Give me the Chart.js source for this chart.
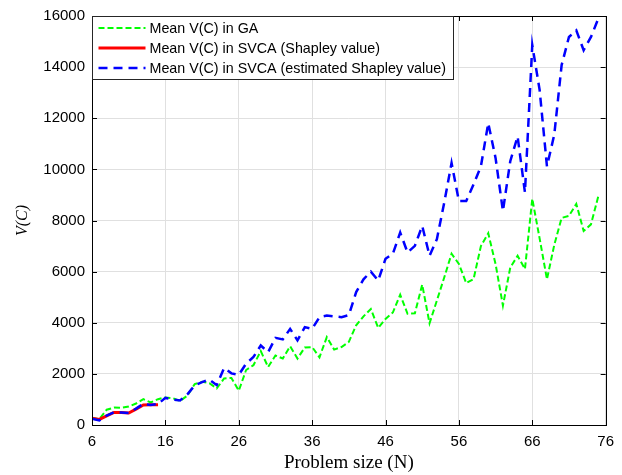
<!DOCTYPE html>
<html>
<head>
<meta charset="utf-8">
<style>
  html, body { margin: 0; padding: 0; background: #fff; }
  #wrap { width: 622px; height: 475px; }
</style>
<script src="https://cdn.jsdelivr.net/npm/chart.js@4.4.0/dist/chart.umd.min.js"></script>
</head>
<body>
<div id="wrap"><canvas id="chart" width="622" height="475"></canvas></div>
<script>
// problem sizes N used on the x axis
const problemSize = [
    6, 7, 8, 9, 10, 11, 12, 13, 14, 15,
    16, 17, 18, 19, 20, 21, 22, 23, 24, 25,
    26, 27, 28, 29, 30, 31, 32, 33, 34, 35,
    36, 37, 38, 39, 40, 41, 42, 43, 44, 45,
    46, 47, 48, 49, 50, 51, 52, 53, 54, 55,
    56, 57, 58, 59, 60, 61, 62, 63, 64, 65,
    66, 67, 68, 69, 70, 71, 72, 73, 74, 75
];

const gaMean = [
    280, 230, 600, 680, 670, 720, 840, 1010, 880, 1010,
    1080, 1050, 940, 1150, 1600, 1690, 1640, 1430, 1820, 1840,
    1340, 2150, 2340, 2890, 2270, 2720, 2600, 3080, 2600, 3030,
    3050, 2650, 3440, 2950, 3050, 3250, 3900, 4250, 4540, 3800,
    4150, 4400, 5100, 4350, 4370, 5490, 3980, 4870, 5770, 6700,
    6300, 5550, 5710, 7000, 7500, 6290, 4670, 6160, 6620, 6100,
    8850, 7300, 5700, 7050, 8100, 8180, 8650, 7590, 7850, 8950
];

// exact Shapley value only computed up to N = 15
const shapleySize = [6, 7, 8, 9, 10, 11, 12, 13, 14, 15];
const svcaShapley = [260, 220, 360, 490, 490, 470, 620, 780, 790, 790];

const svcaEstimated = [
    250, 180, 370, 500, 490, 470, 640, 830, 780, 820,
    1060, 1000, 960, 1200, 1550, 1680, 1780, 1560, 2230, 2020,
    1960, 2400, 2660, 3110, 2850, 3410, 3350, 3760, 3310, 3830,
    3760, 4220, 4280, 4250, 4220, 4300, 5200, 5700, 6000, 5650,
    6500, 6700, 7530, 6750, 7010, 7790, 6620, 7270, 8700, 10250,
    8760, 8760, 9410, 10120, 11810, 10440, 8370, 10320, 11290, 9100,
    14860, 13110, 10120, 11360, 14080, 15180, 15440, 14660, 15180, 15900
];

const xTicks = [6, 16, 26, 36, 46, 56, 66, 76];
const yTicks = [0, 2000, 4000, 6000, 8000, 10000, 12000, 14000, 16000];

const toPoints = (xs, ys) => xs.map((x, i) => ({ x: x, y: ys[i] }));

const tickFont = { family: "'Liberation Sans', Arial, sans-serif", size: 15 };
const serifFamily = "'Liberation Serif', 'DejaVu Serif', serif";

// box around the plot with short inward ticks on all four sides
const axesFrame = {
    id: 'axesFrame',
    afterDatasetsDraw(chart) {
        const { ctx, chartArea, scales } = chart;
        const { left, right, top, bottom } = chartArea;
        const len = 5;
        ctx.save();
        ctx.strokeStyle = '#000';
        ctx.lineWidth = 1;
        ctx.beginPath();
        xTicks.forEach(v => {
            const px = Math.round(scales.x.getPixelForValue(v)) + 0.5;
            ctx.moveTo(px, bottom); ctx.lineTo(px, bottom - len);
            ctx.moveTo(px, top); ctx.lineTo(px, top + len);
        });
        yTicks.forEach(v => {
            const py = Math.round(scales.y.getPixelForValue(v)) + 0.5;
            ctx.moveTo(left, py); ctx.lineTo(left + len, py);
            ctx.moveTo(right, py); ctx.lineTo(right - len, py);
        });
        ctx.stroke();
        ctx.strokeRect(Math.round(left) + 0.5, Math.round(top) + 0.5,
            Math.round(right - left), Math.round(bottom - top));
        ctx.restore();
    }
};

// legend box in the top left corner of the plot
const legendBox = {
    id: 'legendBox',
    afterDraw(chart) {
        const { ctx, chartArea } = chart;
        const x0 = Math.round(chartArea.left) + 0.5;
        const y0 = Math.round(chartArea.top) + 0.5;
        const w = 361, h = 63;
        ctx.save();
        ctx.fillStyle = '#fff';
        ctx.fillRect(x0, y0, w, h);
        ctx.strokeStyle = '#262626';
        ctx.lineWidth = 1;
        ctx.strokeRect(x0, y0, w, h);
        ctx.font = "14.3px 'Liberation Sans', Arial, sans-serif";
        ctx.textBaseline = 'middle';
        chart.data.datasets.forEach((ds, i) => {
            const y = y0 + 11.5 + i * 20;
            ctx.strokeStyle = ds.borderColor;
            ctx.lineWidth = ds.borderWidth;
            ctx.setLineDash(ds.borderDash || []);
            ctx.beginPath();
            ctx.moveTo(x0 + 6, y);
            ctx.lineTo(x0 + 53, y);
            ctx.stroke();
            ctx.setLineDash([]);
            ctx.fillStyle = '#000';
            ctx.fillText(ds.label, x0 + 57, y + 1);
        });
        ctx.restore();
    }
};

const myChart = new Chart(
    document.getElementById('chart'),
    {
        type: 'line',
        data: {
            datasets: [
                {
                    label: 'Mean V(C) in GA',
                    data: toPoints(problemSize, gaMean),
                    borderColor: '#00ff00',
                    borderWidth: 2,
                    borderDash: [6, 3],
                    order: 3
                },
                {
                    label: 'Mean V(C) in SVCA (Shapley value)',
                    data: toPoints(shapleySize, svcaShapley),
                    borderColor: '#ff0000',
                    borderWidth: 3,
                    order: 2
                },
                {
                    label: 'Mean V(C) in SVCA (estimated Shapley value)',
                    data: toPoints(problemSize, svcaEstimated),
                    borderColor: '#0000ff',
                    borderWidth: 2.5,
                    borderDash: [9, 6],
                    order: 1
                }
            ]
        },
        options: {
            responsive: false,
            animation: false,
            devicePixelRatio: 1,
            layout: { padding: { left: 0, right: 12, top: 14, bottom: 0 } },
            elements: {
                point: { radius: 0 },
                line: { tension: 0, fill: false, borderCapStyle: 'butt', borderJoinStyle: 'miter' }
            },
            plugins: {
                legend: { display: false },
                tooltip: { enabled: false }
            },
            scales: {
                x: {
                    type: 'linear',
                    min: 6,
                    max: 76,
                    afterBuildTicks: scale => { scale.ticks = xTicks.map(v => ({ value: v })); },
                    afterFit: scale => { scale.height = 50; },
                    grid: { color: '#e0e0e0', drawTicks: false },
                    border: { display: false },
                    ticks: { color: '#000', font: tickFont, padding: 8, maxRotation: 0, callback: v => String(v) },
                    title: {
                        display: true,
                        text: 'Problem size (N)',
                        color: '#000',
                        font: { family: serifFamily, size: 19 },
                        padding: { top: 0, bottom: 1 }
                    }
                },
                y: {
                    min: 0,
                    max: 16000,
                    afterBuildTicks: scale => { scale.ticks = yTicks.map(v => ({ value: v })); },
                    afterFit: scale => { scale.width = 92; },
                    grid: { color: '#e0e0e0', drawTicks: false },
                    border: { display: false },
                    ticks: { color: '#000', font: tickFont, padding: 7, callback: v => String(v) },
                    title: {
                        display: true,
                        text: 'V(C)',
                        color: '#000',
                        font: { family: serifFamily, size: 16, style: 'italic' },
                        padding: { top: 13, bottom: 0 }
                    }
                }
            }
        },
        plugins: [axesFrame, legendBox]
    }
);
</script>
</body>
</html>
